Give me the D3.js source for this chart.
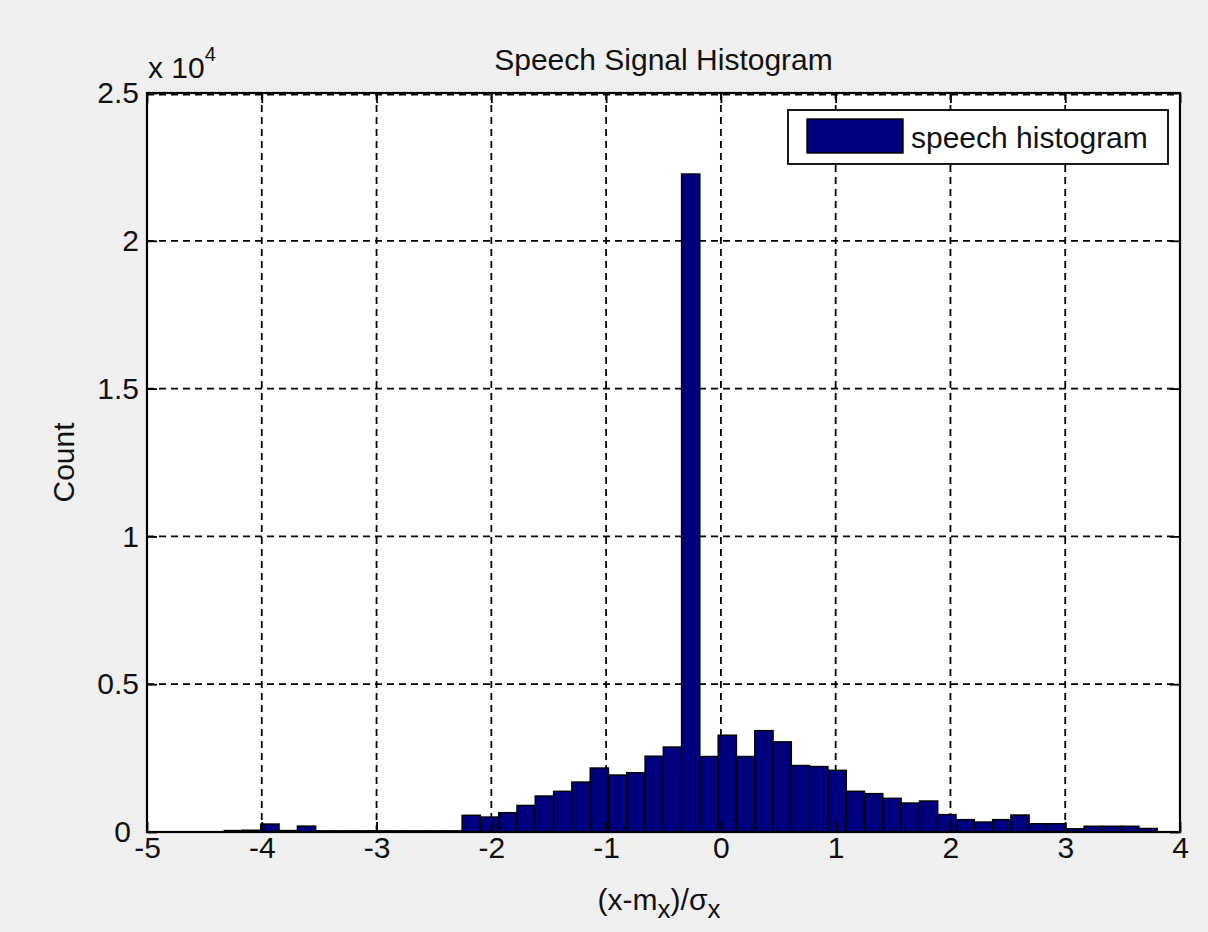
<!DOCTYPE html>
<html>
<head>
<meta charset="utf-8">
<script src="https://cdn.jsdelivr.net/npm/d3@7/dist/d3.min.js"></script>
<style>
  html, body { margin: 0; padding: 0; background: #f0f0f0; }
  svg { display: block; }
  text { font-family: "Liberation Sans", Arial, Helvetica, sans-serif; fill: #111; }
</style>
</head>
<body>
<svg id="chart" width="1208" height="932"></svg>
<script>
// Histogram of a normalised speech signal, 51 equal-width bins
const binWidth = 0.15938;
const binCenters = [
  -4.247, -4.088, -3.929, -3.769, -3.610, -3.450, -3.291, -3.132, -2.972, -2.813,
  -2.653, -2.494, -2.335, -2.175, -2.016, -1.856, -1.697, -1.538, -1.378, -1.219,
  -1.059, -0.900, -0.741, -0.581, -0.422, -0.263, -0.103, 0.056, 0.216, 0.375,
  0.534, 0.694, 0.853, 1.013, 1.172, 1.331, 1.491, 1.650, 1.810, 1.969,
  2.128, 2.288, 2.447, 2.606, 2.766, 2.925, 3.085, 3.244, 3.403, 3.563, 3.722
];
const counts = [
  50, 60, 270, 50, 200, 40, 40, 40, 40, 40,
  40, 40, 40, 565, 507, 655, 900, 1218, 1377, 1691,
  2165, 1928, 2007, 2565, 2875, 22260, 2555, 3275, 2555, 3430,
  3050, 2250, 2215, 2087, 1377, 1299, 1140, 981, 1049, 589,
  419, 338, 420, 575, 280, 280, 110, 195, 195, 195, 120
];
const xTicks = [-5, -4, -3, -2, -1, 0, 1, 2, 3, 4];
const xTickLabels = ["-5", "-4", "-3", "-2", "-1", "0", "1", "2", "3", "4"];
const yTicks = [0, 5000, 10000, 15000, 20000, 25000];
const yTickLabels = ["0", "0.5", "1", "1.5", "2", "2.5"];
const titleText = "Speech Signal Histogram";
const legendText = "speech histogram";
const yLabelText = "Count";

const barFill = "#00007f";
const svg = d3.select("#chart");

const plot = { left: 147, right: 1180, top: 93, bottom: 832 };
const x = d3.scaleLinear().domain([-5, 4]).range([plot.left, plot.right]);
const y = d3.scaleLinear().domain([0, 25000]).range([plot.bottom, plot.top]);

// axes background
svg.append("rect")
  .attr("x", plot.left).attr("y", plot.top)
  .attr("width", plot.right - plot.left).attr("height", plot.bottom - plot.top)
  .attr("fill", "#ffffff");

// dashed grid
const grid = svg.append("g").attr("stroke", "#000").attr("stroke-width", 1.8)
  .attr("stroke-dasharray", "7,5");
grid.selectAll("line.gx").data(xTicks.slice(1, -1)).join("line")
  .attr("x1", d => x(d)).attr("x2", d => x(d))
  .attr("y1", plot.top).attr("y2", plot.bottom);
grid.selectAll("line.gy").data(yTicks.slice(1, -1)).join("line")
  .attr("y1", d => y(d)).attr("y2", d => y(d))
  .attr("x1", plot.left).attr("x2", plot.right);
grid.append("line").attr("x1", plot.left).attr("x2", plot.right)
  .attr("y1", plot.top + 1.5).attr("y2", plot.top + 1.5);

// bars
svg.append("g").selectAll("rect").data(binCenters).join("rect")
  .attr("x", d => x(d - binWidth / 2))
  .attr("width", d => x(d + binWidth / 2) - x(d - binWidth / 2))
  .attr("y", (d, i) => y(counts[i]))
  .attr("height", (d, i) => y(0) - y(counts[i]))
  .attr("fill", barFill)
  .attr("stroke", "#000")
  .attr("stroke-width", 1.4);

// axes with inward ticks on all four sides
const tickLen = 10;
const axisFont = 30;
const xBottom = svg.append("g").attr("transform", `translate(0,${plot.bottom})`)
  .call(d3.axisBottom(x).tickValues(xTicks).tickSizeInner(-tickLen).tickSizeOuter(0)
    .tickPadding(5).tickFormat((d, i) => xTickLabels[i]));
const xTop = svg.append("g").attr("transform", `translate(0,${plot.top})`)
  .call(d3.axisTop(x).tickValues(xTicks).tickSizeInner(-tickLen).tickSizeOuter(0).tickFormat(""));
const yLeft = svg.append("g").attr("transform", `translate(${plot.left},0)`)
  .call(d3.axisLeft(y).tickValues(yTicks).tickSizeInner(-tickLen).tickSizeOuter(0)
    .tickPadding(8).tickFormat((d, i) => yTickLabels[i]));
const yRight = svg.append("g").attr("transform", `translate(${plot.right},0)`)
  .call(d3.axisRight(y).tickValues(yTicks).tickSizeInner(-tickLen).tickSizeOuter(0).tickFormat(""));

[xBottom, xTop, yLeft, yRight].forEach(g => {
  g.select(".domain").remove();
  g.selectAll(".tick line").attr("stroke", "#000").attr("stroke-width", 1.8);
  g.selectAll(".tick text").attr("font-size", axisFont)
    .attr("font-family", "Liberation Sans, Arial, sans-serif").attr("fill", "#111");
});
// the zero label sits in the corner next to the first x label; keep them apart
yLeft.selectAll(".tick text").filter(d => d === 0).attr("x", -16);

// frame
svg.append("rect")
  .attr("x", plot.left).attr("y", plot.top)
  .attr("width", plot.right - plot.left).attr("height", plot.bottom - plot.top)
  .attr("fill", "none").attr("stroke", "#000").attr("stroke-width", 2.2);

// exponent label
const expo = svg.append("text").attr("x", plot.left + 1).attr("y", 78).attr("font-size", axisFont);
expo.append("tspan").text("x 10");
expo.append("tspan").attr("font-size", 20).attr("dy", -17).text("4");

// title
svg.append("text").attr("x", (plot.left + plot.right) / 2).attr("y", 70)
  .attr("text-anchor", "middle").attr("font-size", 30).text(titleText);

// y label
svg.append("text").attr("transform", `translate(74,${(plot.top + plot.bottom) / 2}) rotate(-90)`)
  .attr("text-anchor", "middle").attr("font-size", 30).text(yLabelText);

// x label: (x-m_x)/σ_x
const xl = svg.append("text").attr("x", 659).attr("y", 910)
  .attr("text-anchor", "middle").attr("font-size", 30);
xl.append("tspan").text("(x-m");
xl.append("tspan").attr("dy", 8).attr("font-size", 26).text("x");
xl.append("tspan").attr("dy", -8).text(")/σ");
xl.append("tspan").attr("dy", 8).attr("font-size", 26).text("x");

// legend
const legend = svg.append("g");
legend.append("rect").attr("x", 788).attr("y", 110).attr("width", 380).attr("height", 54)
  .attr("fill", "#fff").attr("stroke", "#000").attr("stroke-width", 1.8);
legend.append("rect").attr("x", 807).attr("y", 119).attr("width", 96).attr("height", 34)
  .attr("fill", barFill).attr("stroke", "#000").attr("stroke-width", 1.4);
legend.append("text").attr("x", 911).attr("y", 148).attr("font-size", 30).text(legendText);
</script>
</body>
</html>
